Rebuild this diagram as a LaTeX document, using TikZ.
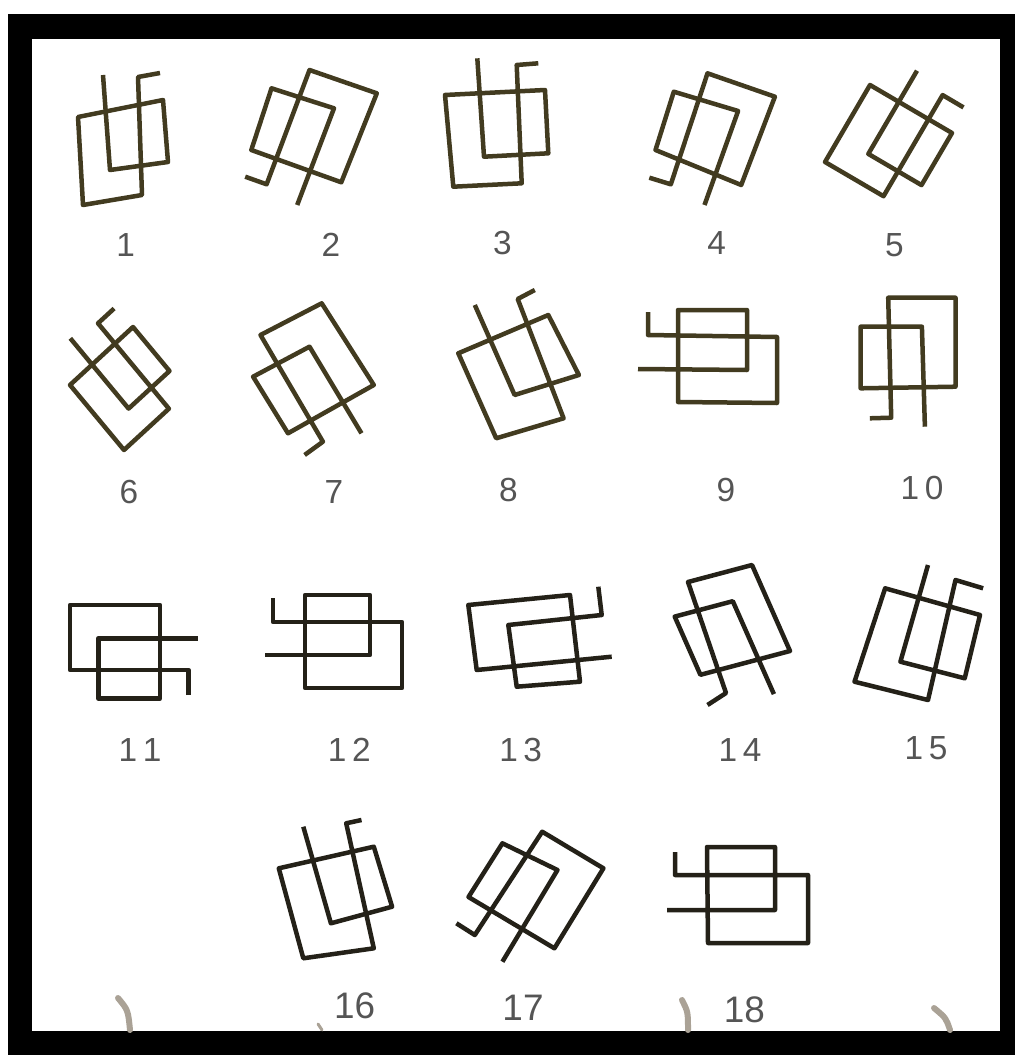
\documentclass[tikz,border=0pt]{standalone}
\usepackage{fontspec}
\setmainfont{Liberation Sans}
\definecolor{ink}{RGB}{66,59,32}
\definecolor{inkdark}{RGB}{36,33,24}
\definecolor{labgray}{RGB}{85,85,85}
\definecolor{smudge}{RGB}{170,162,150}
\begin{document}
\begin{tikzpicture}[x=0.2mm,y=-0.2mm,
  fig/.style={draw=ink,line width=0.9mm,line join=round},
  figd/.style={fig,draw=inkdark},
  num/.style={text=labgray,font=\fontsize{19}{22}\selectfont,inner sep=0pt},
  smudgeline/.style={draw=smudge,line width=1.2mm,line cap=round}]
\useasboundingbox (0,0) rectangle (1015,1055);
\fill[white] (0,0) rectangle (1015,1055);
\fill[black] (8,14) rectangle (1015,1055);
\fill[white] (32,39) rectangle (1000,1031);
% smudges
\draw[smudgeline] (118,998) .. controls (128,1010) .. (130,1030);
\draw[smudgeline] (682,1000) .. controls (688,1012) .. (688,1030);
\draw[smudgeline] (934,1008) .. controls (946,1018) .. (950,1030);
\draw[smudgeline,line width=0.6mm] (318,1024) -- (322,1030);
% row 1
\draw[fig] (160,73) -- (138,77) -- (142,195) -- (83,205) -- (78,117) -- (163,100) -- (168,162) -- (110,170) -- (103,75);
\draw[fig] (245.2,176.7) -- (266.6,184.3) -- (309.5,70) -- (376.8,93.3) -- (341.3,182.3) -- (251.3,150) -- (271.5,88.3) -- (334,108.3) -- (297.2,205);
\draw[fig] (538.3,63.3) -- (516.7,65) -- (521.7,183.3) -- (453.3,186.7) -- (445,95) -- (545,90) -- (548.3,153.3) -- (484,156.7) -- (477.3,58.3);
\draw[fig] (649.3,177.7) -- (670.8,184.3) -- (707.5,73.3) -- (774.9,96.7) -- (741.2,185) -- (655.5,150) -- (673.8,91.7) -- (738.1,111) -- (704.5,205);
\draw[fig] (963.5,107.4) -- (942.6,95.1) -- (883.5,196.2) -- (825,162) -- (870,85) -- (952,133) -- (921.5,185.1) -- (868.3,153.9) -- (917,70.7);
% row 2
\draw[fig] (114.1,308.5) -- (98,323.3) -- (168.9,408.7) -- (124,450) -- (70,385) -- (133,327) -- (169.5,371) -- (128.6,408.6) -- (70.3,338.3);
\draw[fig] (304.6,455) -- (322.9,441.7) -- (260.5,335) -- (321.7,303.3) -- (373.8,385) -- (288,433.3) -- (253.1,376.7) -- (309.5,346.7) -- (361.5,433.3);
\draw[fig] (534.8,290) -- (517.7,299) -- (563.6,418.3) -- (496.2,438.3) -- (458.3,353.3) -- (548.3,315) -- (578.9,375) -- (514.6,395) -- (474.8,305);
\draw[fig] (648,312) -- (648,335) -- (777,337) -- (777,403) -- (678,402) -- (678,310) -- (747,310) -- (747,370) -- (638,369);
\draw[fig] (869.8,418.3) -- (891.2,417.7) -- (888.2,297.7) -- (955.5,297.7) -- (955.5,386.7) -- (860.6,388.3) -- (860.6,326.7) -- (921.9,326.7) -- (924.9,426.7);
% row 3
\draw[figd] (188.3,695) -- (188.3,670) -- (70,670) -- (70,605) -- (160,605) -- (160,698.3) -- (98.3,698.3) -- (98.3,638.3) -- (198.3,638.3);
\draw[figd] (273,598) -- (273,622) -- (402,622) -- (402,688) -- (305,688) -- (305,595) -- (370,595) -- (370,655) -- (265,655);
\draw[figd] (598.3,586.7) -- (601.7,615) -- (508.3,625) -- (516.7,686.7) -- (580,681.7) -- (570,595) -- (468.3,605) -- (476.7,670) -- (611.7,656.7);
\draw[figd] (707.5,705) -- (726,693) -- (688,582) -- (752,565) -- (790,651) -- (700.4,674.8) -- (674.7,616.6) -- (732.8,601.2) -- (773.9,694.1);
\draw[figd] (983.1,588.3) -- (955.5,580) -- (928,700) -- (854.5,681.7) -- (885.1,588.3) -- (980,615) -- (964.7,678.3) -- (900.4,661.7) -- (928,565);
% row 4
\draw[figd] (361.5,820) -- (346.2,823.3) -- (373.8,948.3) -- (303.3,958.3) -- (278.8,868.3) -- (373.8,846.7) -- (392.1,906.7) -- (330.9,923.3) -- (303.3,826.7);
\draw[figd] (456.4,923.3) -- (474.8,935) -- (542.2,831.7) -- (603.4,868.3) -- (554.4,948.3) -- (468.5,897) -- (502.4,843.3) -- (557.5,870) -- (502.4,961.7);
\draw[figd] (675,852) -- (675,875) -- (808,875) -- (808,943) -- (708,943) -- (707,847) -- (775,847) -- (775,910) -- (667,910);
% labels
\node[num] (lab1) at (125.7,245) {1};
\node[num] (lab2) at (330.9,245) {2};
\node[num] (lab3) at (502.4,243) {3};
\node[num] (lab4) at (716.7,243) {4};
\node[num] (lab5) at (894.3,245) {5};
\node[num] (lab6) at (128.8,492) {6};
\node[num] (lab7) at (334,492) {7};
\node[num] (lab8) at (508.5,490) {8};
\node[num] (lab9) at (725.9,490) {9};
\node[num] (lab10) at (922,488) {1\,0};
\node[num] (lab11) at (140,750) {1\,1};
\node[num] (lab12) at (349.3,750) {1\,2};
\node[num] (lab13) at (520.7,750) {1\,3};
\node[num] (lab14) at (740,750) {1\,4};
\node[num] (lab15) at (926,748) {1\,5};
\node[num,font=\fontsize{21}{24}\selectfont] (lab16) at (354.7,1006) {16};
\node[num,font=\fontsize{21}{24}\selectfont] (lab17) at (523,1008) {17};
\node[num,font=\fontsize{21}{24}\selectfont] (lab18) at (744.3,1010) {18};
\end{tikzpicture}
\end{document}
